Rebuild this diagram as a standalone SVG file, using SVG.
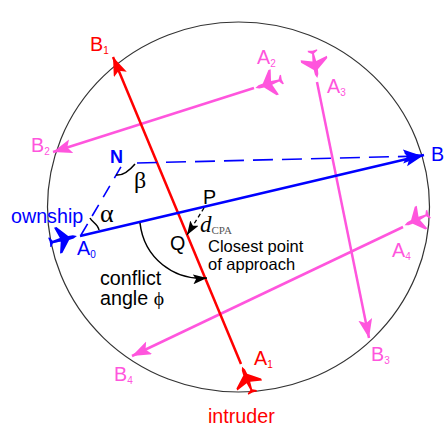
<svg xmlns="http://www.w3.org/2000/svg" width="444" height="426" viewBox="0 0 444 426">
<style>
text{font-family:"Liberation Sans",Arial,sans-serif;font-size:19.700px}
.sub{font-size:10px}
.pk{fill:#ff55dd}.rd{fill:#ff0000}.bl{fill:#0000ff}.bk{fill:#000}
.ser{font-family:"Liberation Serif","Times New Roman",serif}
.line{fill:none;stroke-width:2.500}
</style>
<defs>
<path id="plane" d="M14 0 L10 -1.800 L5 -2.200 L-5 -14 L-7.500 -14 L-4 -2 L-12 -1 L-14.500 -5 L-16 -5 L-15.200 0 L-16 5 L-14.500 5 L-12 1 L-4 2 L-7.500 14 L-5 14 L5 2.200 L10 1.800 Z"/>
<marker id="aP" markerWidth="22" markerHeight="16" refX="19" refY="7" orient="auto" markerUnits="userSpaceOnUse"><path d="M0 0 L19 7 L0 14 L4 7 Z" fill="#ff55dd"/></marker>
<marker id="aR" markerWidth="22" markerHeight="16" refX="19" refY="7" orient="auto" markerUnits="userSpaceOnUse"><path d="M0 0 L19 7 L0 14 L4 7 Z" fill="#ff0000"/></marker>
<marker id="aB" markerWidth="22" markerHeight="16" refX="19" refY="7" orient="auto" markerUnits="userSpaceOnUse"><path d="M0 0 L19 7 L0 14 L4 7 Z" fill="#0000ff"/></marker>
<marker id="aK" markerWidth="16" markerHeight="12" refX="14" refY="5" orient="auto" markerUnits="userSpaceOnUse"><path d="M0 0 L14 5 L0 10 L3 5 Z" fill="#000"/></marker>
</defs>
<ellipse id="boundary" cx="238.500" cy="207" rx="191" ry="185" fill="none" stroke="#333" stroke-width="1.200"/>
<g id="connectors">
<path class="line" d="M254 88 L53 152" stroke="#ff55dd" marker-end="url(#aP)"/>
<path class="line" d="M317 82 L369 338" stroke="#ff55dd" marker-end="url(#aP)"/>
<path class="line" d="M403 227 L132 356" stroke="#ff55dd" marker-end="url(#aP)"/>
<path class="line" d="M241 364 L113 57" stroke="#ff0000" stroke-width="3" marker-end="url(#aR)"/>
<path class="line" d="M80 236 L424 155" stroke="#0000ff" stroke-width="3" marker-end="url(#aB)"/>
<path d="M50 243 L58 241" fill="none" stroke="#0000ff" stroke-width="2"/>
<path d="M81 235 L122 165 L127 164" fill="none" stroke="#0000ff" stroke-width="1.600" stroke-dasharray="13 9"/>
<path d="M137 163 L422 156" fill="none" stroke="#0000ff" stroke-width="1.600" stroke-dasharray="20 9" marker-end="url(#aB)"/>
<path d="M204 208 L187 235" fill="none" stroke="#000" stroke-width="1.300" stroke-dasharray="4 3" marker-end="url(#aK)"/>
<path d="M140 223 C144 258 174 281 207 278" fill="none" stroke="#000" stroke-width="1.500" marker-end="url(#aK)"/>
<path d="M90 218 C92 222 98 224 99 230" fill="none" stroke="#000" stroke-width="1.500"/>
<path d="M116 175 C124 176 130 170 135 164" fill="none" stroke="#000" stroke-width="1.500"/>
</g>
<g id="A0"><use href="#plane" class="bl" transform="translate(64 239) rotate(-13) scale(.95)"/><text x="77" y="255" class="bl">A<tspan class="sub" dy="3">0</tspan></text></g>
<g id="A1"><use href="#plane" class="rd" transform="translate(247 379) rotate(-112) scale(.95)"/><text x="254" y="365" class="rd">A<tspan class="sub" dy="3">1</tspan></text></g>
<g id="A2"><use href="#plane" class="pk" transform="translate(268 84) rotate(162) scale(.95)"/><text x="257" y="64" class="pk">A<tspan class="sub" dy="3">2</tspan></text></g>
<g id="A3"><use href="#plane" class="pk" transform="translate(315 65) rotate(80) scale(.95)"/><text x="327" y="93" class="pk">A<tspan class="sub" dy="3">3</tspan></text></g>
<g id="A4"><use href="#plane" class="pk" transform="translate(416 220) rotate(155) scale(.9)"/><text x="392" y="257" class="pk">A<tspan class="sub" dy="3">4</tspan></text></g>
<g id="B1"><text x="90" y="51" class="rd">B<tspan class="sub" dy="3">1</tspan></text></g>
<g id="B2"><text x="31" y="152" class="pk">B<tspan class="sub" dy="3">2</tspan></text></g>
<g id="B3"><text x="371" y="361" class="pk">B<tspan class="sub" dy="3">3</tspan></text></g>
<g id="B4"><text x="114" y="381" class="pk">B<tspan class="sub" dy="3">4</tspan></text></g>
<g id="B"><text x="431" y="161" class="bl">B</text></g>
<g id="N"><text x="110" y="163" class="bl" style="font-size:18px;font-weight:bold">N</text></g>
<g id="ownship"><text x="11" y="223" class="bl">ownship</text></g>
<g id="intruder"><text x="208" y="423" class="rd">intruder</text></g>
<g id="alpha"><text x="100" y="222" class="bk ser" style="font-size:26px">α</text></g>
<g id="beta"><text x="134" y="188" class="bk ser" style="font-size:24px">β</text></g>
<g id="P"><text x="203" y="204" class="bk">P</text></g>
<g id="Q"><text x="170" y="250" class="bk">Q</text></g>
<g id="dcpa"><text x="200" y="232" class="bk ser" style="font-size:23px;font-style:italic">d<tspan class="ser" style="font-size:11px;font-style:normal" fill="#555" dy="2">CPA</tspan></text></g>
<g id="closest"><text x="208" y="252" class="bk" style="font-size:16.500px">Closest point</text><text x="208" y="270" class="bk" style="font-size:16.500px">of approach</text></g>
<g id="conflict"><text x="100" y="285" class="bk">conflict</text><text x="100" y="305" class="bk">angle <tspan class="ser">ϕ</tspan></text></g>
</svg>
